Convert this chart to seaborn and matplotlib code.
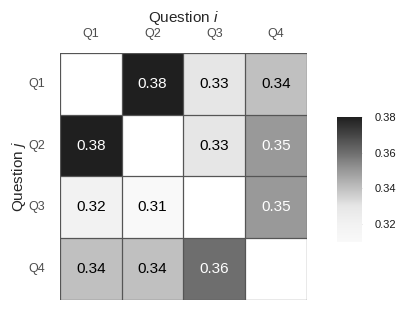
import numpy as np
import pandas as pd
import matplotlib
matplotlib.use("Agg")
import matplotlib.pyplot as plt
import seaborn as sns
from matplotlib.colors import LinearSegmentedColormap

questions = ["Q1", "Q2", "Q3", "Q4"]
row_q1 = [np.nan, 0.38, 0.33, 0.34]
row_q2 = [0.38, np.nan, 0.33, 0.35]
row_q3 = [0.32, 0.31, np.nan, 0.35]
row_q4 = [0.34, 0.34, 0.36, np.nan]
cbar_ticks = [0.32, 0.34, 0.36, 0.38]

df = pd.DataFrame([row_q1, row_q2, row_q3, row_q4], index=questions, columns=questions)

sns.set_style("white")
plt.rcParams['font.family'] = ['Liberation Sans', 'DejaVu Sans']
plt.rcParams['mathtext.fontset'] = 'custom'
plt.rcParams['mathtext.it'] = 'Liberation Sans:italic'
plt.rcParams['mathtext.rm'] = 'Liberation Sans'

# grey ramp (white -> near black)
vmin, vmax = 0.31, 0.38
stops = [(0.31, "#f9f9f9"), (0.32, "#f2f2f2"), (0.33, "#e6e6e6"), (0.34, "#c0c0c0"),
         (0.35, "#999999"), (0.36, "#6e6e6e"), (0.37, "#464646"), (0.38, "#1f1f1f")]
cmap = LinearSegmentedColormap.from_list(
    "greys", [((v - vmin) / (vmax - vmin), c) for v, c in stops])
cmap.set_bad("white")

fig = plt.figure(figsize=(4.15, 3.12), dpi=100)
ax = fig.add_axes([0.1446, 0.0385, 0.595, 0.7917])
cax = fig.add_axes([0.812, 0.2244, 0.060, 0.4006])

sns.heatmap(df, ax=ax, cbar_ax=cax, cmap=cmap, vmin=vmin, vmax=vmax,
            annot=True, fmt=".2f", annot_kws={"fontsize": 11},
            cbar_kws={"ticks": cbar_ticks})

# black text on light cells, keep white on dark ones
for t in ax.texts:
    if t.get_color() != "w":
        t.set_color("black")

# cell borders
for k in range(len(questions) + 1):
    ax.axhline(k, color="#555555", lw=0.9)
    ax.axvline(k, color="#555555", lw=0.9)

ax.xaxis.tick_top()
ax.xaxis.set_label_position("top")
ax.set_xlabel("Question $i$", fontsize=11, labelpad=5)
ax.set_ylabel("Question $j$", fontsize=11, labelpad=0)
ax.tick_params(axis="both", length=0, labelsize=9, labelcolor="#4d4d4d")
ax.tick_params(axis="x", pad=9)
ax.tick_params(axis="y", pad=11)
plt.setp(ax.get_yticklabels(), rotation=0)

cax.set_frame_on(False)
cax.yaxis.set_ticks_position("both")
cax.tick_params(axis="y", direction="in", length=4, width=0.8, color="#dddddd",
                labelsize=8, labelcolor="#1a1a1a", pad=9)

fig.savefig("out.png", dpi=100)
